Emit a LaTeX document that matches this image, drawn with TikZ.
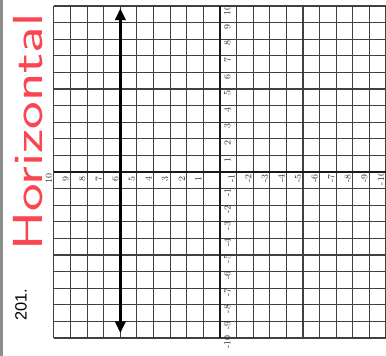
\documentclass[tikz,border=0pt]{standalone}
\usepackage{fontspec}
\newfontfamily\numfont{Liberation Sans}
\usetikzlibrary{arrows.meta}
\definecolor{penred}{RGB}{250,70,80}
\tikzset{
  gridline/.style={black!75, line width=0.9pt},
  axisline/.style={black!90, line width=1.4pt},
  ticklabel/.style={font=\footnotesize, inner sep=0pt, black!80},
  graphline/.style={line width=2pt, {Triangle[length=10pt,width=9pt]}-{Triangle[length=10pt,width=9pt]}},
}
\begin{document}
\begin{tikzpicture}[x=0.5cm,y=0.5cm]
  \useasboundingbox (-13.25,-11.08) rectangle (10,10.36);
  \fill[white] (-13.25,-11.08) rectangle (10,10.36);
  \fill[black!45] (-13.25,-11.08) rectangle (-13.05,10.36);
  % the sheet is turned a quarter turn
  \begin{scope}[rotate=90, transform shape]
    \draw[gridline, step=1] (-10,-10) grid (10,10);
    \draw[axisline] (-10,0) -- (10,0);
    \draw[axisline] (0,-10) -- (0,10);
    \foreach \i in {-10,...,-1,1,2,...,10} {
      \node[ticklabel] (xl\i) at (\i-0.25,-0.45) {\i};
      \node[ticklabel] (yl\i) at (-0.4,\i+0.3) {\i};
    }
    \coordinate (lineL) at (-9.7,6);
    \coordinate (lineR) at (9.85,6);
    \draw[graphline] (lineL) -- (lineR);
  \end{scope}
  \node[rotate=90, xscale=1.4, penred, font=\sffamily\fontsize{36}{36}\selectfont, inner sep=0pt] (word) at (-11.57,2.4) {Horizontal};
  \node[rotate=90, font=\numfont\fontsize{14}{14}\selectfont, inner sep=0pt] (num) at (-11.99,-8.0) {201.};
\end{tikzpicture}
\end{document}
